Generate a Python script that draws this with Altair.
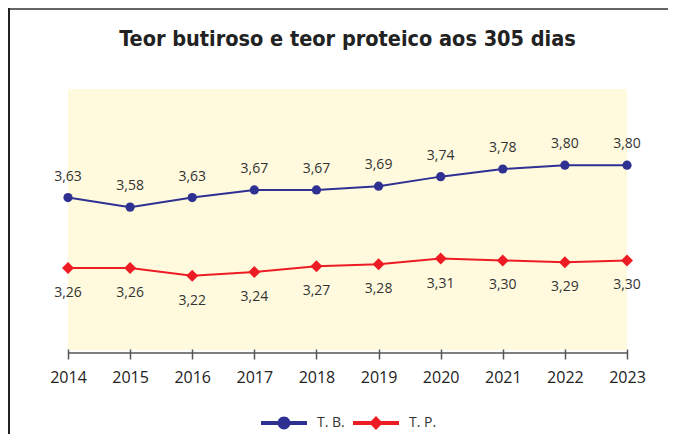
import altair as alt
import pandas as pd

years = [2014, 2015, 2016, 2017, 2018, 2019, 2020, 2021, 2022, 2023]
tb = [3.63, 3.58, 3.63, 3.67, 3.67, 3.69, 3.74, 3.78, 3.80, 3.80]
tp = [3.26, 3.26, 3.22, 3.24, 3.27, 3.28, 3.31, 3.30, 3.29, 3.30]
series_names = ["T. B.", "T. P."]
colors = ["#2e3192", "#ed1c24"]
title_text = "Teor butiroso e teor proteico aos 305 dias"

W, H = 559, 261
PAD = {"left": 60, "top": 81, "right": 41, "bottom": 84}

df = pd.DataFrame({
    "year": years * 2,
    "value": tb + tp,
    "series": [series_names[0]] * len(years) + [series_names[1]] * len(years),
})

tb_path = ("M-1,-0.085L1,-0.085L1,0.085L-1,0.085Z "
           "M-0.28,0A0.28,0.28 0 1,1 0.28,0A0.28,0.28 0 1,1 -0.28,0Z")
tp_path = ("M-1,-0.085L1,-0.085L1,0.085L-1,0.085Z "
           "M0,-0.3L0.3,0L0,0.3L-0.3,0Z")

color_scale = alt.Scale(domain=series_names, range=colors)

x = alt.X("year:O", scale=alt.Scale(type="point", padding=0),
          axis=alt.Axis(title=None, labelAngle=0, domain=False, tickSize=10,
                        offset=-1, tickColor="#555", tickWidth=1.5,
                        labelFontSize=16, labelFont="Open Sans",
                        labelColor="#222", labelPadding=10, grid=False))
y = alt.Y("value:Q", scale=alt.Scale(domain=[2.83, 4.2], nice=False, zero=False),
          axis=None)

base = alt.Chart(df).transform_calculate(
    label="replace(format(datum.value, '.2f'), '.', ',')"
)
tb_base = base.transform_filter(alt.datum.series == series_names[0])
tp_base = base.transform_filter(alt.datum.series == series_names[1])

tb_line = tb_base.mark_line(strokeWidth=2, color=colors[0]).encode(x=x, y=y)
tp_line = tp_base.mark_line(strokeWidth=2, color=colors[1]).encode(x=x, y=y)

tb_pts = tb_base.mark_point(filled=True, opacity=1, shape="circle", size=85,
                            color=colors[0]).encode(x=x, y=y)
tp_pts = tp_base.mark_point(filled=True, opacity=1, shape="diamond", size=144,
                            color=colors[1]).encode(x=x, y=y)

tb_lbl = tb_base.mark_text(dy=-17, baseline="alphabetic", fontSize=14,
                           font="Open Sans", color="#333").encode(x=x, y=y, text="label:N")
tp_lbl = tp_base.mark_text(dy=29, baseline="alphabetic", fontSize=14,
                           font="Open Sans", color="#333").encode(x=x, y=y, text="label:N")

leg = alt.Legend(title=None, orient="none", direction="horizontal",
                 legendX=193, legendY=311, padding=0, columnPadding=8,
                 symbolSize=2116, symbolStrokeWidth=0, labelOffset=10,
                 labelFontSize=14, labelFont="Open Sans", labelColor="#333",
                 symbolOpacity=1)
legend_layer = alt.Chart(df).transform_filter("false").mark_point(filled=True).encode(
    x=x, y=y,
    color=alt.Color("series:N", scale=color_scale, legend=leg),
    shape=alt.Shape("series:N", scale=alt.Scale(domain=series_names, range=[tb_path, tp_path]),
                    legend=leg),
)

one = pd.DataFrame({"k": [0]})
axis_line = alt.Chart(one).mark_rule(color="#555", strokeWidth=1.5).encode(
    x=alt.value(0), x2=alt.value(W), y=alt.value(H + 3), y2=alt.value(H + 3))
border_top = alt.Chart(one).mark_rect(color="#666", strokeWidth=0).encode(
    x=alt.value(-60), x2=alt.value(W + 41), y=alt.value(-81), y2=alt.value(-79))
border_left = alt.Chart(one).mark_rect(color="#222", strokeWidth=0).encode(
    x=alt.value(-60), x2=alt.value(-58), y=alt.value(-81), y2=alt.value(H + 84))

title_mark = alt.Chart(one).mark_text(
    text=title_text, font="DejaVu Sans Condensed, Roboto, sans-serif", fontSize=21.5,
    fontWeight="bold", color="#222", align="center", baseline="alphabetic"
).encode(x=alt.value(W / 2), y=alt.value(-43))

chart = alt.layer(border_top, border_left, axis_line, tb_line, tp_line, tb_pts, tp_pts,
                  tb_lbl, tp_lbl, title_mark, legend_layer).properties(
    width=W, height=H,
    padding=PAD,
    autosize=alt.AutoSizeParams(type="none"),
    background="white",
).configure_view(fill="#fffade", stroke=None)

chart.save("out.html", embed_options={"renderer": "svg", "actions": False})
